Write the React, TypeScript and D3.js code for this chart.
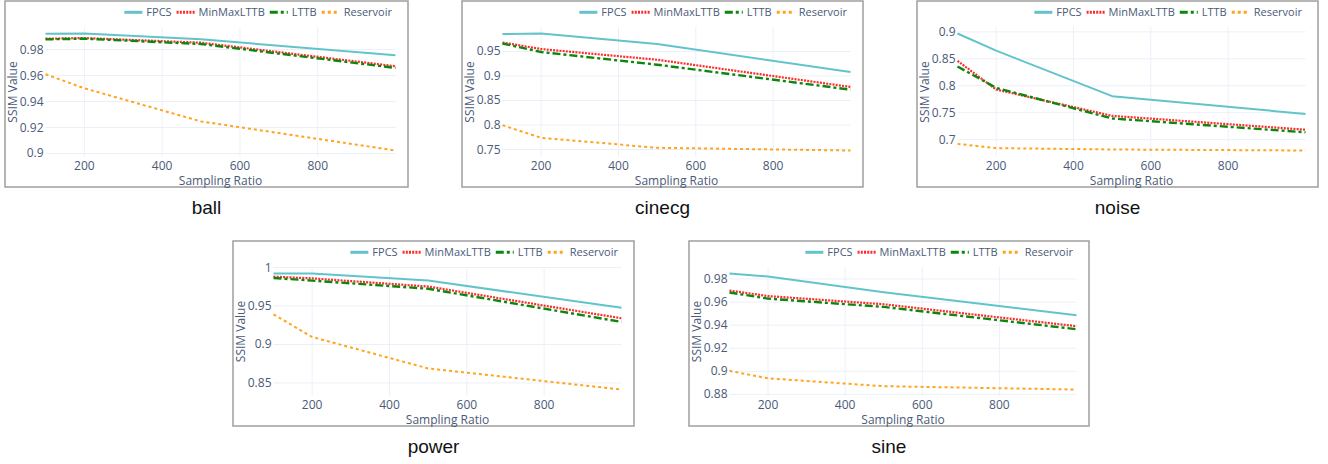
import { useRef, useEffect } from 'react';
import * as d3 from 'd3';

// sampling ratios on the x axis
const ratios = [100, 200, 500, 1000];
const methods = ['FPCS', 'MinMaxLTTB', 'LTTB', 'Reservoir'];

// SSIM values per dataset, one array per method
const ballFPCS = [0.9922, 0.9924, 0.9879, 0.9756];
const ballMinMax = [0.9884, 0.9889, 0.9853, 0.9672];
const ballLTTB = [0.9879, 0.9884, 0.9843, 0.9659];
const ballReservoir = [0.961, 0.9502, 0.9247, 0.9023];

const cinecgFPCS = [0.9856, 0.9866, 0.965, 0.908];
const cinecgMinMax = [0.9683, 0.9549, 0.9331, 0.8776];
const cinecgLTTB = [0.9663, 0.9488, 0.923, 0.8721];
const cinecgReservoir = [0.7995, 0.7739, 0.7535, 0.748];

const noiseFPCS = [0.897, 0.8651, 0.7807, 0.7477];
const noiseMinMax = [0.8462, 0.793, 0.7441, 0.7184];
const noiseLTTB = [0.8358, 0.7961, 0.7393, 0.7136];
const noiseReservoir = [0.6921, 0.6842, 0.6817, 0.6798];

const powerFPCS = [0.9923, 0.9923, 0.983, 0.9476];
const powerMinMax = [0.9881, 0.9859, 0.9753, 0.934];
const powerLTTB = [0.9864, 0.983, 0.9724, 0.9293];
const powerReservoir = [0.9391, 0.9097, 0.8688, 0.8414];

const sineFPCS = [0.9848, 0.9822, 0.9686, 0.9485];
const sineMinMax = [0.97, 0.9652, 0.9581, 0.9391];
const sineLTTB = [0.9683, 0.963, 0.9558, 0.9365];
const sineReservoir = [0.9004, 0.8939, 0.8871, 0.8842];

const xTicks = [200, 400, 600, 800];

const lineStyles = {
  FPCS: { color: '#62c4ca', width: 2, dash: null },
  MinMaxLTTB: { color: '#ff2b2b', width: 2.2, dash: '2,1.2' },
  LTTB: { color: '#0b870b', width: 2.4, dash: '8,3,3,3' },
  Reservoir: { color: '#ffa41c', width: 2, dash: '3,3' },
};

const panels = [
  { name: 'ball', x: 5, y: 1, w: 403, h: 186, series: [ballFPCS, ballMinMax, ballLTTB, ballReservoir] },
  { name: 'cinecg', x: 462, y: 1, w: 401, h: 186, series: [cinecgFPCS, cinecgMinMax, cinecgLTTB, cinecgReservoir] },
  { name: 'noise', x: 917, y: 1, w: 401, h: 186, series: [noiseFPCS, noiseMinMax, noiseLTTB, noiseReservoir] },
  { name: 'power', x: 233, y: 241, w: 401, h: 185, series: [powerFPCS, powerMinMax, powerLTTB, powerReservoir] },
  { name: 'sine', x: 689, y: 241, w: 400, h: 185, series: [sineFPCS, sineMinMax, sineLTTB, sineReservoir] },
];

const plotFont = "'Open Sans', verdana, arial, sans-serif";
const textColor = '#4a5a78';

const App = () => {
  const ref = useRef(null);

  useEffect(() => {
    const svg = d3.select(ref.current);
    svg.selectAll('*').remove();

    panels.forEach((p) => {
      const g = svg.append('g').attr('transform', `translate(${p.x},${p.y})`);
      const left = 40.5;
      const right = p.w - 12.5;
      const top = 26;
      const bottom = p.h - 30;

      const all = p.series.flat();
      const [lo, hi] = d3.extent(all);
      const pad = ((hi - lo) * 0.05) / 0.9;

      const x = d3.scaleLinear().domain([100, 1000]).range([left, right]);
      const y = d3.scaleLinear().domain([lo - pad, hi + pad]).range([bottom, top]);
      const yTicks = y.ticks(5);

      g.append('rect')
        .attr('width', p.w)
        .attr('height', p.h)
        .attr('fill', 'white')
        .attr('stroke', '#9e9e9e')
        .attr('stroke-width', 1.5);

      // grid
      g.selectAll('.vgrid')
        .data(xTicks)
        .enter()
        .append('line')
        .attr('x1', (d) => x(d))
        .attr('x2', (d) => x(d))
        .attr('y1', top)
        .attr('y2', bottom)
        .attr('stroke', '#ebf0f8');
      g.selectAll('.hgrid')
        .data(yTicks)
        .enter()
        .append('line')
        .attr('x1', left)
        .attr('x2', right)
        .attr('y1', (d) => y(d))
        .attr('y2', (d) => y(d))
        .attr('stroke', '#ebf0f8');

      // tick labels
      g.selectAll('.xt')
        .data(xTicks)
        .enter()
        .append('text')
        .attr('x', (d) => x(d))
        .attr('y', bottom + 13)
        .attr('text-anchor', 'middle')
        .attr('font-family', plotFont)
        .attr('font-size', 12)
        .attr('fill', textColor)
        .text((d) => d);
      g.selectAll('.yt')
        .data(yTicks)
        .enter()
        .append('text')
        .attr('x', left - 2)
        .attr('y', (d) => y(d) + 4)
        .attr('text-anchor', 'end')
        .attr('font-family', plotFont)
        .attr('font-size', 12)
        .attr('fill', textColor)
        .text((d) => String(+d.toFixed(4)));

      // axis titles
      g.append('text')
        .attr('x', (left + right) / 2)
        .attr('y', bottom + 28)
        .attr('text-anchor', 'middle')
        .attr('font-family', plotFont)
        .attr('font-size', 12)
        .attr('fill', textColor)
        .text('Sampling Ratio');
      g.append('text')
        .attr('transform', `translate(12,${(top + bottom) / 2}) rotate(-90)`)
        .attr('text-anchor', 'middle')
        .attr('font-family', plotFont)
        .attr('font-size', 12)
        .attr('fill', textColor)
        .text('SSIM Value');

      // lines
      const line = d3
        .line()
        .x((d, i) => x(ratios[i]))
        .y((d) => y(d));
      methods.forEach((m, k) => {
        const s = lineStyles[m];
        g.append('path')
          .datum(p.series[k])
          .attr('d', line)
          .attr('fill', 'none')
          .attr('stroke', s.color)
          .attr('stroke-width', s.width)
          .attr('stroke-dasharray', s.dash)
          .attr('stroke-linejoin', 'round');
      });

      // legend, laid out right to left so it ends near the right edge
      const legend = g.append('g');
      const items = methods.map((m) => {
        const it = legend.append('g');
        const s = lineStyles[m];
        it.append('line')
          .attr('x1', 0)
          .attr('x2', 18)
          .attr('y1', 11.3)
          .attr('y2', 11.3)
          .attr('stroke', s.color)
          .attr('stroke-width', 3)
          .attr('stroke-dasharray', s.dash);
        const t = it.append('text')
          .attr('x', 22)
          .attr('y', 15.2)
          .attr('font-family', plotFont)
          .attr('font-size', 11)
          .attr('fill', textColor)
          .text(m);
        return { it, w: 22 + t.node().getComputedTextLength() };
      });
      let cx = p.w - 16;
      for (let i = items.length - 1; i >= 0; i--) {
        cx -= items[i].w;
        items[i].it.attr('transform', `translate(${cx},0)`);
        cx -= 5;
      }

      // caption under the panel
      svg.append('text')
        .attr('x', p.x + p.w / 2)
        .attr('y', p.y + p.h + 27)
        .attr('text-anchor', 'middle')
        .attr('font-family', "'Liberation Sans', Arial, sans-serif")
        .attr('font-size', 19)
        .attr('fill', '#111')
        .text(p.name);
    });
  }, []);

  return (
    <div style={{ position: 'absolute', left: 0, top: 0, background: 'white' }}>
      <svg ref={ref} width={1328} height={464} style={{ display: 'block' }}></svg>
    </div>
  );
};

export default App;
